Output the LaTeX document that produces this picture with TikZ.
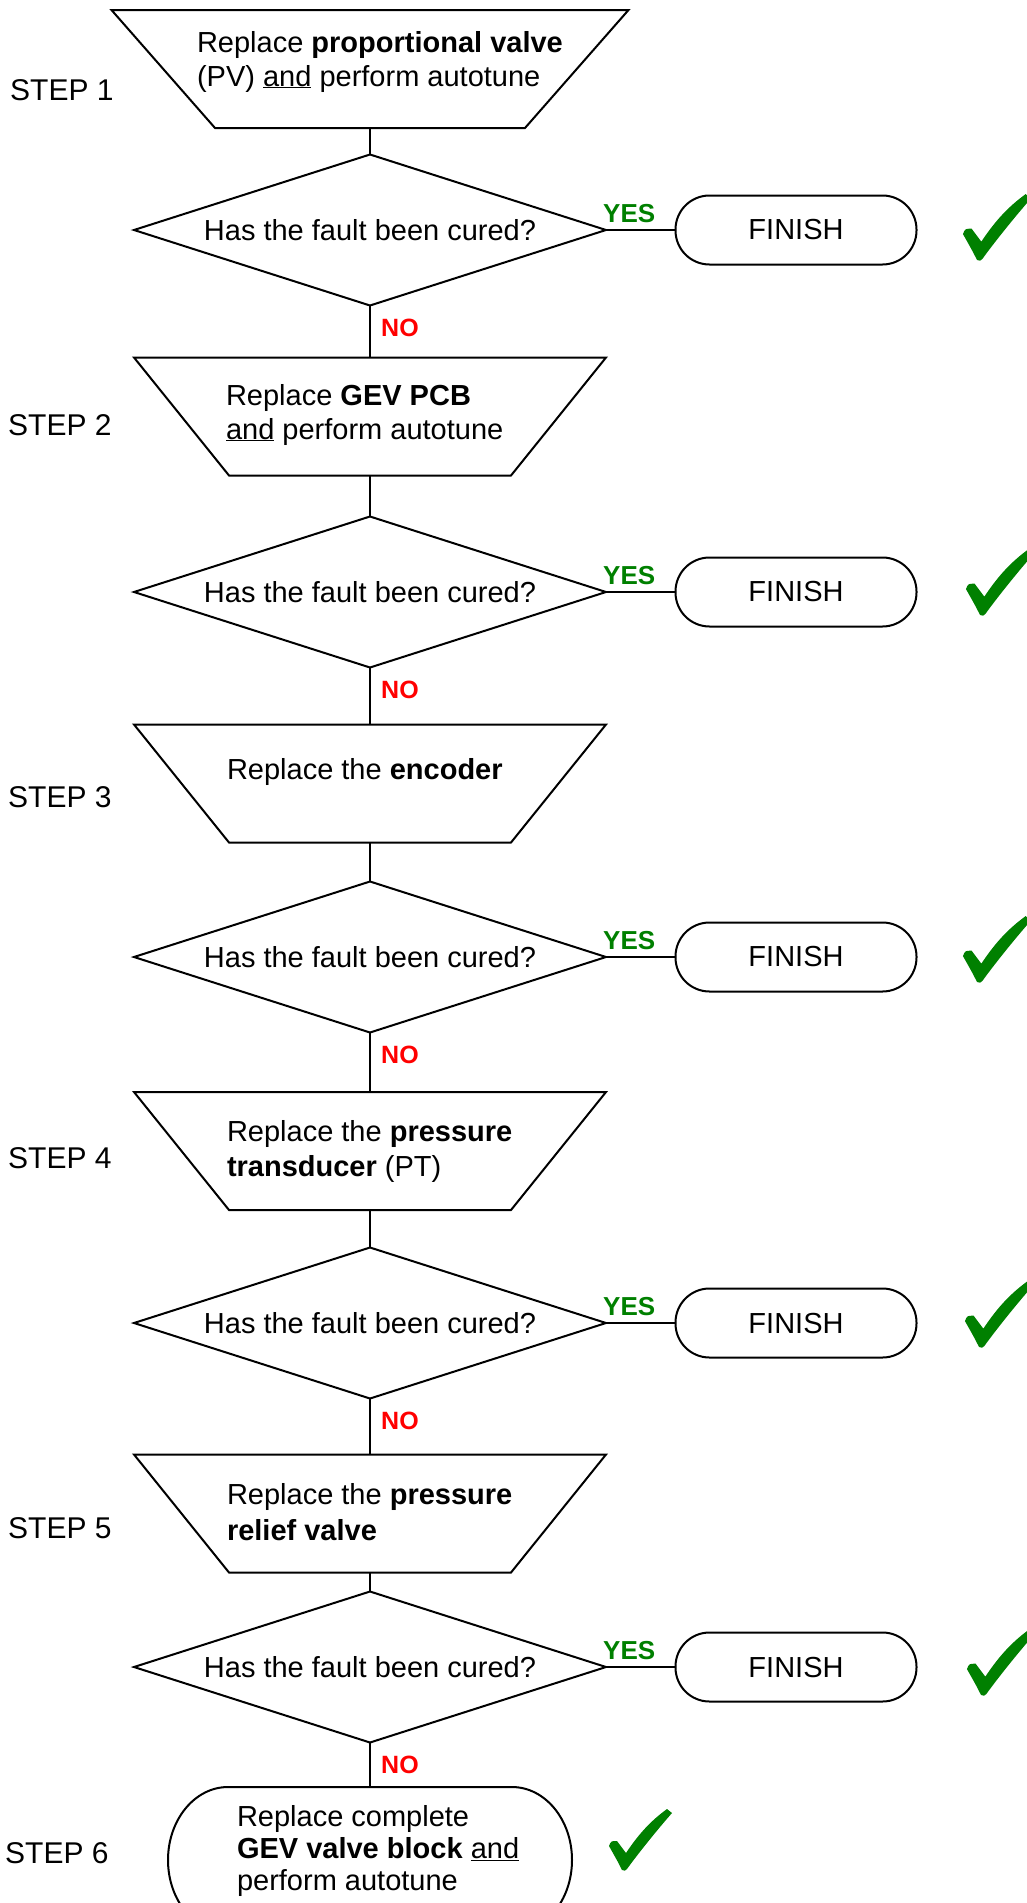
\documentclass[tikz,border=0pt]{standalone}
\usepackage{fontspec}
\setmainfont{Liberation Sans}
\usetikzlibrary{shapes.geometric}
\definecolor{okgreen}{RGB}{0,128,0}
\definecolor{nored}{RGB}{255,0,0}
\begin{document}
\begin{tikzpicture}[x=1pt,y=-1pt,
  conn/.style={line width=2pt},
  body/.style={font=\fontsize{29}{34}\selectfont, inner sep=0pt, outer sep=0pt, anchor=base west},
  steplbl/.style={font=\fontsize{30}{34}\selectfont, inner sep=0pt, anchor=base west},
  yeslbl/.style={font=\fontsize{26}{30}\selectfont\bfseries, text=okgreen, inner sep=0pt, anchor=base west},
  nolbl/.style={font=\fontsize{25}{30}\selectfont\bfseries, text=nored, inner sep=0pt, anchor=base west},
  dec/.style={diamond, aspect=3.126, draw, line width=2pt, minimum width=472pt, minimum height=151pt, inner sep=0pt, outer sep=0pt, font=\fontsize{29}{34}\selectfont},
  fin/.style={draw, line width=2pt, rounded corners=34pt, minimum width=241pt, minimum height=69pt, inner sep=0pt, outer sep=0pt, font=\fontsize{29}{34}\selectfont},
  trbox/.style={inner sep=0pt, outer sep=0pt, minimum height=118pt},
  check/.pic={\fill[okgreen] (0,0) .. controls (-4,-8) .. (-13,-24) .. controls (-11,-29) .. (-5,-29) -- (4,-17) .. controls (18,-38) and (30,-50) .. (45,-61) -- (50,-57) .. controls (35,-40) and (15,-15) .. (5,-1) .. controls (3,1) .. (0,0) -- cycle;}
]
\useasboundingbox[fill=white] (0,0) rectangle (1026,1903);

% trapezoids
\node[trbox, minimum width=517pt] (t1) at (370,69) {};
\draw[conn] (t1.north west) -- (t1.north east) -- ([xshift=-103.5pt]t1.south east) -- ([xshift=103.5pt]t1.south west) -- cycle;
\node[trbox, minimum width=472pt] (t2) at (370,416.5) {};
\draw[conn] (t2.north west) -- (t2.north east) -- ([xshift=-95pt]t2.south east) -- ([xshift=95pt]t2.south west) -- cycle;
\node[trbox, minimum width=472pt] (t3) at (370,783.5) {};
\draw[conn] (t3.north west) -- (t3.north east) -- ([xshift=-95pt]t3.south east) -- ([xshift=95pt]t3.south west) -- cycle;
\node[trbox, minimum width=472pt] (t4) at (370,1151) {};
\draw[conn] (t4.north west) -- (t4.north east) -- ([xshift=-95pt]t4.south east) -- ([xshift=95pt]t4.south west) -- cycle;
\node[trbox, minimum width=472pt] (t5) at (370,1513.5) {};
\draw[conn] (t5.north west) -- (t5.north east) -- ([xshift=-95pt]t5.south east) -- ([xshift=95pt]t5.south west) -- cycle;

% trapezoid texts
\node[body] (t1a) at (197,52) {Replace \textbf{proportional valve}};
\node[body] (t1b) at (197,86) {(PV) \underline{and} perform autotune};
\node[body] (t2a) at (226,405) {Replace \textbf{GEV PCB}};
\node[body] (t2b) at (226,439) {\underline{and} perform autotune};
\node[body] (t3a) at (227,779) {Replace the \textbf{encoder}};
\node[body] (t4a) at (227,1141) {Replace the \textbf{pressure}};
\node[body] (t4b) at (227,1176) {\textbf{transducer} (PT)};
\node[body] (t5a) at (227,1504) {Replace the \textbf{pressure}};
\node[body] (t5b) at (227,1540) {\textbf{relief valve}};

% step labels
\node[steplbl] (s1l) at (10,100) {STEP 1};
\node[steplbl] (s2l) at (8,435) {STEP 2};
\node[steplbl] (s3l) at (8,807) {STEP 3};
\node[steplbl] (s4l) at (8,1168) {STEP 4};
\node[steplbl] (s5l) at (8,1538) {STEP 5};
\node[steplbl] (s6l) at (5,1863) {STEP 6};

% decisions
\node[dec] (d1) at (370,230) {Has the fault been cured?};
\node[dec] (d2) at (370,592) {Has the fault been cured?};
\node[dec] (d3) at (370,957) {Has the fault been cured?};
\node[dec] (d4) at (370,1323) {Has the fault been cured?};
\node[dec] (d5) at (370,1667) {Has the fault been cured?};

% finish
\node[fin] (f1) at (796,230) {FINISH};
\node[fin] (f2) at (796,592) {FINISH};
\node[fin] (f3) at (796,957) {FINISH};
\node[fin] (f4) at (796,1323) {FINISH};
\node[fin] (f5) at (796,1667) {FINISH};

% step 6 box
\node[inner sep=0pt, outer sep=0pt, minimum width=404pt, minimum height=146pt] (s6) at (370,1860) {};
\draw[conn] (228,1787) -- (512,1787) arc[start angle=-90, end angle=90, x radius=60, y radius=73] -- (228,1933) arc[start angle=90, end angle=270, x radius=60, y radius=73] -- cycle;
\node[body] (s6a) at (237,1826) {Replace complete};
\node[body] (s6b) at (237,1858) {\textbf{GEV valve block} \underline{and}};
\node[body] (s6c) at (237,1890) {perform autotune};

% connectors
\draw[conn] (t1.south) -- (d1.north);
\draw[conn] (d1.south) -- (t2.north);
\draw[conn] (t2.south) -- (d2.north);
\draw[conn] (d2.south) -- (t3.north);
\draw[conn] (t3.south) -- (d3.north);
\draw[conn] (d3.south) -- (t4.north);
\draw[conn] (t4.south) -- (d4.north);
\draw[conn] (d4.south) -- (t5.north);
\draw[conn] (t5.south) -- (d5.north);
\draw[conn] (d5.south) -- (s6.north);
\draw[conn] (d1.east) -- (f1.west);
\draw[conn] (d2.east) -- (f2.west);
\draw[conn] (d3.east) -- (f3.west);
\draw[conn] (d4.east) -- (f4.west);
\draw[conn] (d5.east) -- (f5.west);

% labels
\node[yeslbl] (y1) at (603,222) {YES};
\node[yeslbl] (y2) at (603,584) {YES};
\node[yeslbl] (y3) at (603,949) {YES};
\node[yeslbl] (y4) at (603,1315) {YES};
\node[yeslbl] (y5) at (603,1659) {YES};
\node[nolbl] (n1) at (381,336.5) {NO};
\node[nolbl] (n2) at (381,698.5) {NO};
\node[nolbl] (n3) at (381,1063.5) {NO};
\node[nolbl] (n4) at (381,1429.5) {NO};
\node[nolbl] (n5) at (381,1773.5) {NO};

% check marks
\pic[scale=1.08] (c1) at (977,260) {check};
\pic[scale=1.08] (c2) at (980,615) {check};
\pic[scale=1.08] (c3) at (977,982) {check};
\pic[scale=1.08] (c4) at (979,1347) {check};
\pic[scale=1.08] (c5) at (981,1695) {check};
\pic (c6) at (622,1870) {check};
\end{tikzpicture}
\end{document}
